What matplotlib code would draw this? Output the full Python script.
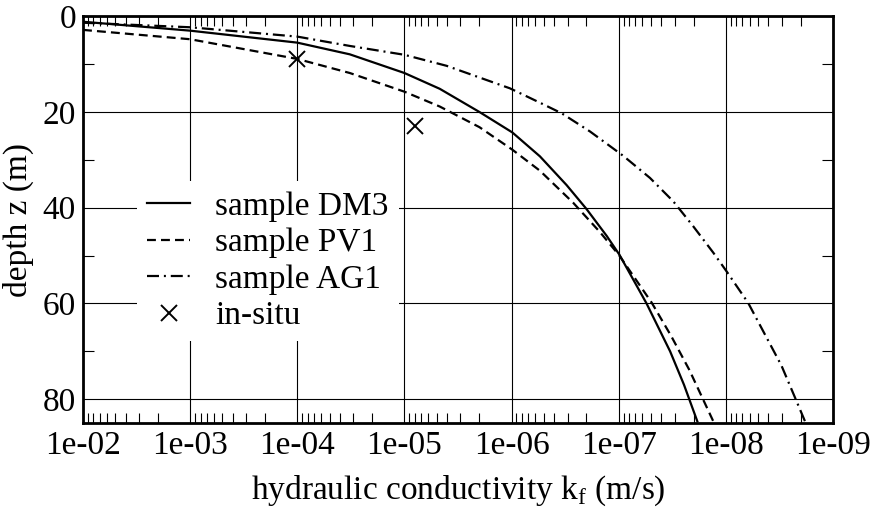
import matplotlib
matplotlib.use("Agg")
import matplotlib.pyplot as plt
import numpy as np
from matplotlib.ticker import FixedLocator, FuncFormatter, LogLocator, NullFormatter

plt.rcParams['font.family'] = ['Liberation Serif', 'DejaVu Serif']
plt.rcParams['mathtext.fontset'] = 'custom'
plt.rcParams['mathtext.rm'] = 'Liberation Serif'

# values: log10 of k (m/s) and depth z (m)
dm3_logk = [-2.0, -3.0, -4.0, -4.49, -5.0, -5.33, -5.705, -6.007, -6.265, -6.514,
            -6.70, -6.888, -7.006, -7.26, -7.48, -7.61, -7.734]
dm3_z = [1.2, 3.06, 5.56, 8.0, 11.9, 15.2, 20.1, 24.3, 29.3, 35.3,
         40.3, 45.9, 49.8, 60.0, 70.0, 77.0, 84.6]

pv1_logk = [-2.0, -3.0, -4.0, -4.49, -5.0, -5.33, -5.7, -6.007, -6.265, -6.576,
            -6.825, -7.006, -7.307, -7.49, -7.66, -7.883]
pv1_z = [2.9, 4.85, 8.96, 11.9, 15.8, 18.9, 23.2, 27.9, 32.3, 39.0,
         45.1, 50.0, 59.8, 66.8, 73.9, 84.6]

ag1_logk = [-2.0, -3.0, -4.0, -4.49, -5.0, -5.394, -5.985, -6.265, -6.467, -6.732,
            -7.043, -7.292, -7.51, -7.696, -7.883, -8.007, -8.209, -8.38, -8.52,
            -8.645, -8.739]
ag1_z = [1.4, 2.35, 4.3, 6.25, 8.1, 10.4, 15.1, 18.1, 20.3, 24.1,
         29.2, 33.8, 38.7, 43.9, 49.4, 53.3, 59.9, 67.1, 73.0,
         79.6, 84.6]

insitu_k = [1e-4, 7.9e-6]
insitu_z = [8.9, 23.0]

decades = [1e-2, 1e-3, 1e-4, 1e-5, 1e-6, 1e-7, 1e-8, 1e-9]
depth_ticks = [0, 20, 40, 60, 80]

fig = plt.figure(figsize=(8.74, 5.08), dpi=100)
ax = fig.add_axes([0.095, 0.167, 0.858, 0.8015])

ax.plot(10 ** np.array(dm3_logk), dm3_z, color='black', lw=1.6, label='sample DM3')
ax.plot(10 ** np.array(pv1_logk), pv1_z, color='black', lw=1.6, ls=(0, (4.0, 2.3)), label='sample PV1')
ax.plot(10 ** np.array(ag1_logk), ag1_z, color='black', lw=1.6, ls=(0, (5.4, 2.2, 0.9, 2.2)), label='sample AG1')
ax.plot(insitu_k, insitu_z, ls='none', marker='x', ms=11, mew=1.4, color='black', label='in-situ')

ax.set_xscale('log')
ax.set_xlim(1e-2, 1e-9)
ax.set_ylim(85, 0)

ax.xaxis.set_major_locator(FixedLocator(decades))
ax.xaxis.set_major_formatter(FuncFormatter(lambda v, p: f"{v:.0e}"))
ax.xaxis.set_minor_locator(LogLocator(base=10, subs=np.arange(2, 10), numticks=20))
ax.xaxis.set_minor_formatter(NullFormatter())
ax.yaxis.set_major_locator(FixedLocator(depth_ticks))
ax.yaxis.set_minor_locator(FixedLocator([10, 30, 50, 70]))

ax.grid(True, which='major', color='black', lw=0.8)
ax.tick_params(which='both', direction='in', top=True, right=True, labelsize=24, colors='black')
ax.tick_params(which='major', length=0, pad=5)
ax.tick_params(which='minor', length=7, width=0.8)
ax.tick_params(axis='y', which='minor', length=8)

for s in ax.spines.values():
    s.set_linewidth(2)

ax.set_xlabel(r'hydraulic conductivity k$_\mathrm{f}$ (m/s)', fontsize=24, labelpad=9)
ax.set_ylabel('depth z (m)', fontsize=24, labelpad=6)

leg = ax.legend(loc='upper left', bbox_to_anchor=(0.072, 0.594), borderaxespad=0,
                fontsize=24, frameon=True, fancybox=False, handlelength=1.3,
                handletextpad=0.75, labelspacing=0.18, borderpad=0.3)
leg.get_frame().set_edgecolor('none')
leg.get_frame().set_facecolor('white')
leg.get_frame().set_alpha(1)

fig.savefig('out.png', dpi=100)
